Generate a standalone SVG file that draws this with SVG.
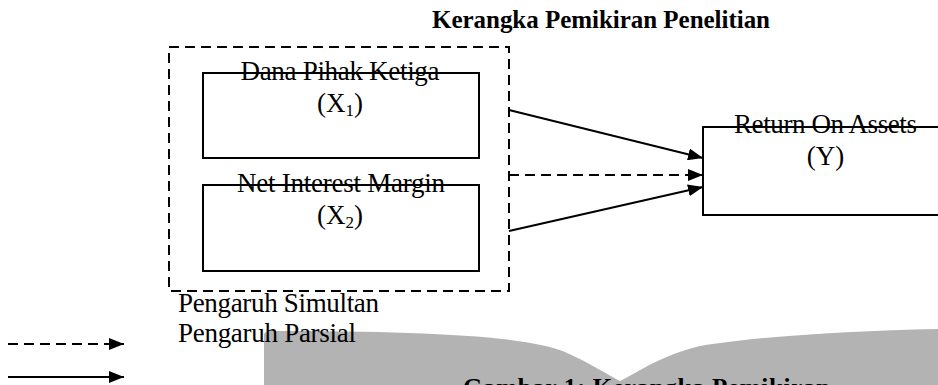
<svg xmlns="http://www.w3.org/2000/svg" width="938" height="385" viewBox="0 0 938 385">
<style>
.t{font-family:"Liberation Serif","Times New Roman",serif;font-size:27px;fill:#000}
.b{font-weight:bold;font-size:25px}
.box{fill:none;stroke:#000;stroke-width:2}
.dash{fill:none;stroke:#000;stroke-width:2;stroke-dasharray:10 6}
.ln{fill:none;stroke:#000;stroke-width:2}
</style>
<defs>
<marker id="ah" viewBox="0 0 15 12" refX="15" refY="6" markerWidth="15" markerHeight="12" markerUnits="userSpaceOnUse" orient="auto">
<path d="M0,0 L15,6 L0,12 z" fill="#000"/>
</marker>
</defs>
<rect width="938" height="385" fill="#fff"/>
<path id="watermark" d="M264 385 L264 334 Q265 331 272 331 C420 331 530 336 565 352 C590 363 608 375 620 381 C642 370 662 355 700 346 C760 336 850 331 938 329 L938 385 Z" fill="#b3b3b3"/>
<text class="t b" x="601" y="28" text-anchor="middle" textLength="338" lengthAdjust="spacing">Kerangka Pemikiran Penelitian</text>
<g id="group-simultan">
<rect class="dash" x="169" y="47" width="340" height="244"/>
</g>
<g id="node-x1">
<rect class="box" x="203" y="73" width="276" height="85"/>
<text class="t" x="340" y="80" text-anchor="middle" textLength="199" lengthAdjust="spacing">Dana Pihak Ketiga</text>
<text class="t" x="340" y="112" text-anchor="middle">(X<tspan font-size="17" dy="4">1</tspan><tspan dy="-4">)</tspan></text>
</g>
<g id="node-x2">
<rect class="box" x="203" y="185" width="276" height="86"/>
<text class="t" x="341" y="192" text-anchor="middle" textLength="208" lengthAdjust="spacing">Net Interest Margin</text>
<text class="t" x="340" y="224" text-anchor="middle">(X<tspan font-size="17" dy="4">2</tspan><tspan dy="-4">)</tspan></text>
</g>
<g id="node-y">
<path class="box" d="M940 127 H703 V215 H940"/>
<text class="t" x="825.5" y="133" text-anchor="middle" textLength="183" lengthAdjust="spacing">Return On Assets</text>
<text class="t" x="825.5" y="165" text-anchor="middle">(Y)</text>
</g>
<g id="connectors">
<line class="ln" x1="509" y1="110" x2="703" y2="158" marker-end="url(#ah)"/>
<line class="dash" x1="509" y1="175" x2="703" y2="175" marker-end="url(#ah)"/>
<line class="ln" x1="509" y1="231" x2="703" y2="187" marker-end="url(#ah)"/>
</g>
<g id="legend">
<text class="t" x="178" y="312" textLength="201" lengthAdjust="spacing">Pengaruh Simultan</text>
<text class="t" x="178" y="342" textLength="178" lengthAdjust="spacing">Pengaruh Parsial</text>
<line class="dash" x1="8" y1="344" x2="124" y2="344" marker-end="url(#ah)"/>
<line class="ln" x1="8" y1="377" x2="124" y2="377" marker-end="url(#ah)"/>
</g>
<text class="t b" x="463" y="396" textLength="367" lengthAdjust="spacing">Gambar 1: Kerangka Pemikiran</text>
</svg>
